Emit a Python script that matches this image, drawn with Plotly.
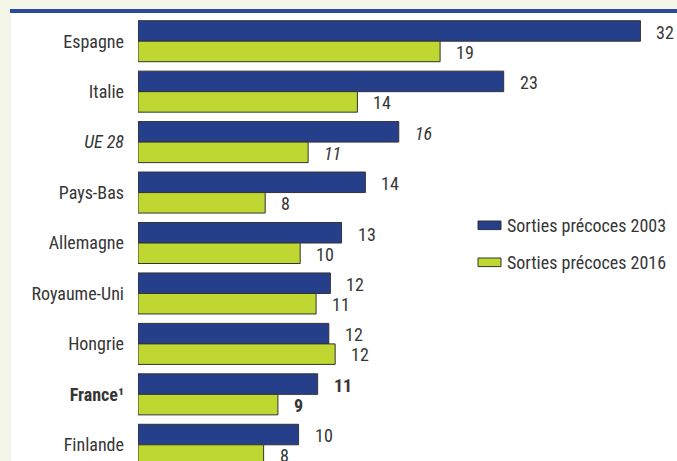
import plotly.graph_objects as go

# ---- data ----
categories = ["Espagne", "Italie", "UE 28", "Pays-Bas", "Allemagne",
              "Royaume-Uni", "Hongrie", "France", "Finlande"]
tick_labels = ["Espagne", "Italie", "<i>UE 28</i>", "Pays-Bas", "Allemagne",
               "Royaume-Uni", "Hongrie", "<b>France¹</b>", "Finlande"]
values_2003 = [31.6, 23.0, 16.4, 14.3, 12.8, 12.1, 12.0, 11.3, 10.1]
values_2016 = [19.0, 13.8, 10.7, 8.0, 10.2, 11.2, 12.4, 8.8, 7.9]
labels_2003 = ["32", "23", "<i>16</i>", "14", "13", "12", "12", "<b>11</b>", "10"]
labels_2016 = ["19", "14", "<i>11</i>", "8", "10", "11", "12", "<b>9</b>", "8"]
series_names = ["Sorties précoces 2003", "Sorties précoces 2016"]

# ---- style ----
W, H = 677, 461
ML, MR, MT, MB = 138, 14, 13, 0
BLUE = "#253f8b"
GREEN = "#bfd730"
EDGE = "#333333"
TEXT = "#363636"
PALE = "#f3f5e7"
FONT = "Liberation Sans Narrow, Roboto Condensed, DejaVu Sans Condensed, Arial Narrow, sans-serif"
FS = 18
PW = W - ML - MR
PH = H - MT - MB


def px_x(x):
    return (x - ML) / PW


def px_y(y):
    return (H - MB - y) / PH


fig = go.Figure()
fig.add_trace(go.Bar(y=categories, x=values_2003, orientation="h", name=series_names[0],
                     marker=dict(color=BLUE, line=dict(color=EDGE, width=1))))
fig.add_trace(go.Bar(y=categories, x=values_2016, orientation="h", name=series_names[1],
                     marker=dict(color=GREEN, line=dict(color=EDGE, width=1))))

annotations = []
for i, cat in enumerate(categories):
    annotations.append(dict(x=values_2003[i], y=cat, xref="x", yref="y", text=labels_2003[i],
                            showarrow=False, xanchor="left", yanchor="middle", xshift=14, yshift=9,
                            font=dict(family=FONT, size=FS, color=TEXT)))
    annotations.append(dict(x=values_2016[i], y=cat, xref="x", yref="y", text=labels_2016[i],
                            showarrow=False, xanchor="left", yanchor="middle", xshift=14, yshift=-11,
                            font=dict(family=FONT, size=FS, color=TEXT)))

# frame and legend (drawn manually)
shapes = [
    dict(type="rect", xref="paper", yref="paper", x0=px_x(0), x1=px_x(W), y0=px_y(9), y1=px_y(-2),
         fillcolor=PALE, line=dict(width=0), layer="below"),
    dict(type="rect", xref="paper", yref="paper", x0=px_x(0), x1=px_x(11), y0=px_y(H + 2), y1=px_y(0),
         fillcolor=PALE, line=dict(width=0), layer="below"),
    dict(type="rect", xref="paper", yref="paper", x0=px_x(10), x1=px_x(W + 2), y0=px_y(13), y1=px_y(9),
         fillcolor="#2b4a9c", line=dict(width=0), layer="below"),
]
for k, (col, yc) in enumerate([(BLUE, 225.3), (GREEN, 262.3)]):
    shapes.append(dict(type="rect", xref="paper", yref="paper", x0=px_x(478), x1=px_x(501),
                       y0=px_y(yc + 4.3), y1=px_y(yc - 4.3), fillcolor=col,
                       line=dict(color=EDGE, width=1)))
    annotations.append(dict(x=px_x(505), y=px_y(yc), xref="paper", yref="paper", text=series_names[k],
                            showarrow=False, xanchor="left", yanchor="middle",
                            font=dict(family=FONT, size=FS, color=TEXT)))

fig.update_layout(
    width=W, height=H,
    margin=dict(l=ML, r=MR, t=MT, b=MB, autoexpand=False),
    paper_bgcolor="white", plot_bgcolor="white",
    barmode="group", bargap=0.187, bargroupgap=0,
    showlegend=False,
    xaxis=dict(range=[0, PW / 15.9], visible=False, fixedrange=True),
    yaxis=dict(type="category", categoryorder="array", categoryarray=categories,
               range=[8 + (H - 444.8) / 50.45, -(41.2 - MT) / 50.45],
               tickvals=categories, ticktext=tick_labels, ticks="", showgrid=False,
               zeroline=False, showline=False, ticklabelstandoff=13, fixedrange=True,
               tickfont=dict(family=FONT, size=FS, color=TEXT)),
    shapes=shapes,
    annotations=annotations,
)

fig.write_html("out.html", config={"displayModeBar": False},
               post_script="document.body.style.margin='0';document.body.style.overflow='hidden';")
